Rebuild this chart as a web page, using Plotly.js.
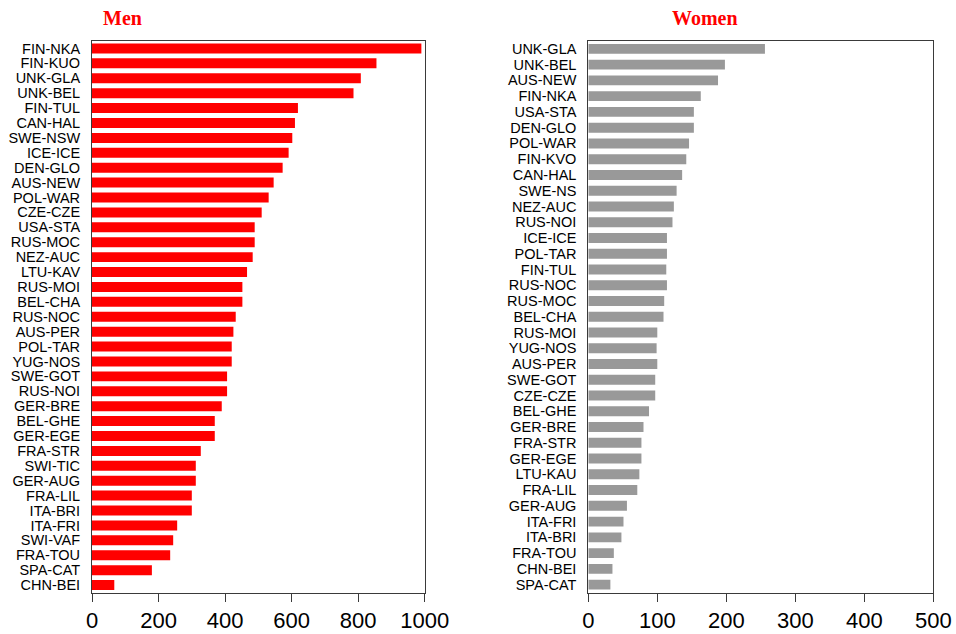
<!DOCTYPE html>
<html>
<head>
<meta charset="utf-8">
<script src="https://cdn.plot.ly/plotly-3.0.1.min.js"></script>
<style>html,body{margin:0;padding:0;background:#fff;}#chart{width:956px;height:634px;}</style>
</head>
<body>
<div id="chart"></div>
<script>
const menCategories = ["FIN-NKA","FIN-KUO","UNK-GLA","UNK-BEL","FIN-TUL","CAN-HAL","SWE-NSW","ICE-ICE","DEN-GLO","AUS-NEW","POL-WAR","CZE-CZE","USA-STA","RUS-MOC","NEZ-AUC","LTU-KAV","RUS-MOI","BEL-CHA","RUS-NOC","AUS-PER","POL-TAR","YUG-NOS","SWE-GOT","RUS-NOI","GER-BRE","BEL-GHE","GER-EGE","FRA-STR","SWI-TIC","GER-AUG","FRA-LIL","ITA-BRI","ITA-FRI","SWI-VAF","FRA-TOU","SPA-CAT","CHN-BEI"];
const menValues = [990,855,808,786,619,610,602,591,573,546,531,510,489,489,483,466,452,452,432,425,420,420,406,406,390,369,369,327,312,312,300,300,256,244,235,180,67];

const womenCategories = ["UNK-GLA","UNK-BEL","AUS-NEW","FIN-NKA","USA-STA","DEN-GLO","POL-WAR","FIN-KVO","CAN-HAL","SWE-NS","NEZ-AUC","RUS-NOI","ICE-ICE","POL-TAR","FIN-TUL","RUS-NOC","RUS-MOC","BEL-CHA","RUS-MOI","YUG-NOS","AUS-PER","SWE-GOT","CZE-CZE","BEL-GHE","GER-BRE","FRA-STR","GER-EGE","LTU-KAU","FRA-LIL","GER-AUG","ITA-FRI","ITA-BRI","FRA-TOU","CHN-BEI","SPA-CAT"];
const womenValues = [256,198,188,163,153,153,146,142,136,128,124,122,114,114,113,114,110,109,100,99,100,97,97,88,80,77,77,74,71,56,51,48,37,35,32];

const menTicks = [0,200,400,600,800,1000];
const womenTicks = [0,100,200,300,400,500];

const W = 956, H = 634;
const px = v => v / W;
const py = v => 1 - v / H;

const tickFont = {family: "Liberation Sans, Arial, Helvetica, sans-serif", size: 14.5, color: "#000"};
const xTickFont = {family: "Liberation Sans, Arial, Helvetica, sans-serif", size: 22, color: "#000"};

const traces = [
  {type: "bar", orientation: "h", x: menValues, y: menCategories, xaxis: "x", yaxis: "y",
   marker: {color: "#ff0000", line: {width: 0}}, width: 0.67, hoverinfo: "x+y"},
  {type: "bar", orientation: "h", x: womenValues, y: womenCategories, xaxis: "x2", yaxis: "y2",
   marker: {color: "#999999", line: {width: 0}}, width: 0.63, hoverinfo: "x+y"}
];

const axLine = {showline: true, linecolor: "#3a3a3a", linewidth: 1, mirror: true, showgrid: false, zeroline: false};

const layout = {
  width: W, height: H,
  margin: {l: 0, r: 0, t: 0, b: 0},
  paper_bgcolor: "#fff", plot_bgcolor: "#fff",
  showlegend: false,
  font: {family: "Liberation Sans, Arial, sans-serif"},
  xaxis: Object.assign({}, axLine, {domain: [px(92), px(424.7)], range: [0, 1000], anchor: "y",
    tickmode: "array", tickvals: menTicks, ticktext: menTicks.map(String), ticks: "outside", ticklen: 8, tickcolor: "#3a3a3a",
    tickfont: xTickFont, fixedrange: true}),
  yaxis: Object.assign({}, axLine, {domain: [py(592.5), py(41)], anchor: "x", type: "category",
    autorange: "reversed", tickmode: "array", tickvals: menCategories, ticktext: menCategories,
    ticks: "", tickfont: tickFont, ticklabelstandoff: 8, fixedrange: true}),
  xaxis2: Object.assign({}, axLine, {domain: [px(588.3), px(933.3)], range: [0, 500], anchor: "y2",
    tickmode: "array", tickvals: womenTicks, ticktext: womenTicks.map(String), ticks: "outside", ticklen: 8, tickcolor: "#3a3a3a",
    tickfont: xTickFont, fixedrange: true}),
  yaxis2: Object.assign({}, axLine, {domain: [py(592.5), py(41)], anchor: "x2", type: "category",
    autorange: "reversed", tickmode: "array", tickvals: womenCategories, ticktext: womenCategories,
    ticks: "", tickfont: tickFont, ticklabelstandoff: 8, fixedrange: true}),
  annotations: [
    {text: "<b>Men</b>", xref: "paper", yref: "paper", x: px(122.7), y: py(18), xanchor: "center", yanchor: "middle",
     showarrow: false, font: {family: "Liberation Serif, Times New Roman, serif", size: 20, color: "#ff0000"}},
    {text: "<b>Women</b>", xref: "paper", yref: "paper", x: px(704.5), y: py(18), xanchor: "center", yanchor: "middle",
     showarrow: false, font: {family: "Liberation Serif, Times New Roman, serif", size: 20, color: "#ff0000"}}
  ]
};

Plotly.newPlot("chart", traces, layout, {displayModeBar: false, staticPlot: true});
</script>
</body>
</html>
